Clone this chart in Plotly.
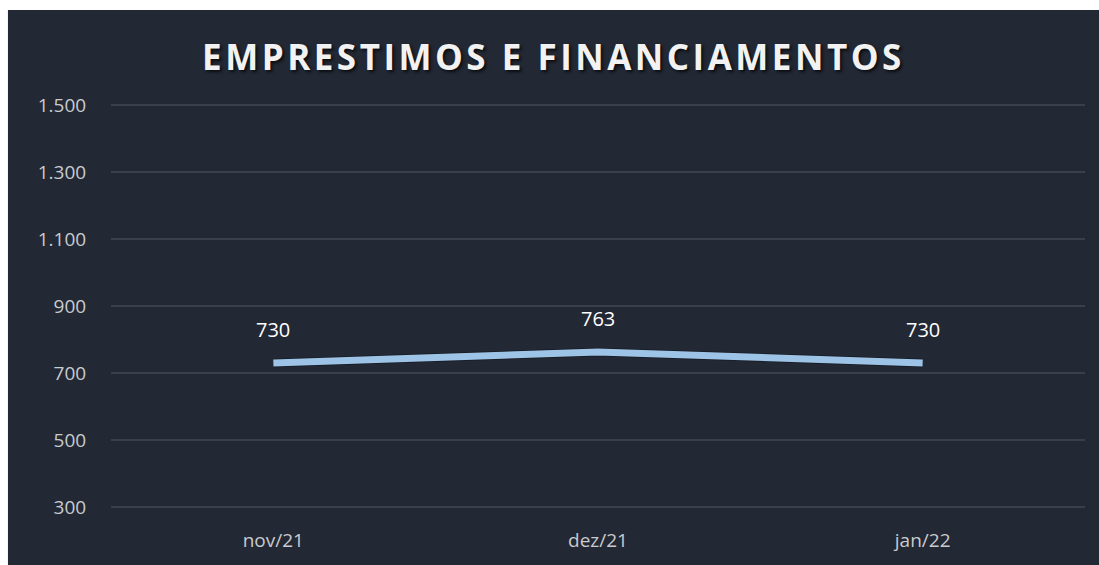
import plotly.graph_objects as go

months = ["nov/21", "dez/21", "jan/22"]
values = [730, 763, 730]
y_ticks = [300, 500, 700, 900, 1100, 1300, 1500]
title_words = ["EMPRESTIMOS", "E", "FINANCIAMENTOS"]

BG = "#222834"
GRID = "#3a404b"
TICK = "#c9cbce"
LINE = "#9dc3e6"
FONT = "Open Sans"

# letter-spaced title built from hair spaces
title_text = "\u200a \u200a".join("\u200a".join(word) for word in title_words)

fig = go.Figure()
fig.add_scatter(
    x=months,
    y=values,
    mode="lines",
    line={"color": "rgba(0,0,0,0.35)", "width": 8.5},
    hoverinfo="skip",
    showlegend=False,
)
fig.add_scatter(
    x=months,
    y=values,
    mode="lines",
    line={"color": LINE, "width": 7},
    showlegend=False,
)
for month, value in zip(months, values):
    fig.add_annotation(
        x=month,
        y=value,
        text=f"{value:,}".replace(",", "."),
        showarrow=False,
        yshift=33,
        font={"family": FONT, "size": 20, "color": "#ffffff"},
    )

# dark card behind the chart, leaving a thin white strip on top and left
fig.add_shape(
    type="rect",
    xref="paper",
    yref="paper",
    x0=-0.1058,
    x1=1.05,
    y0=-0.2,
    y1=1.229,
    fillcolor=BG,
    line={"width": 0},
    layer="below",
)

fig.update_layout(
    width=1099,
    height=565,
    margin={"l": 111, "r": 14, "t": 103, "b": 56},
    paper_bgcolor="#ffffff",
    plot_bgcolor="rgba(0,0,0,0)",
    separators=",.",
    title={
        "text": title_text,
        "x": 0.502,
        "xanchor": "center",
        "y": 0.898,
        "yanchor": "middle",
        "font": {
            "family": FONT,
            "size": 35,
            "color": "#f2f2f2",
            "weight": "bold",
            "shadow": "2px 2px 3px rgba(0,0,0,0.7)",
        },
    },
    xaxis={
        "range": [-0.5, 2.5],
        "automargin": False,
        "showgrid": False,
        "showline": False,
        "ticks": "outside",
        "ticklen": 14,
        "tickcolor": "rgba(0,0,0,0)",
        "tickfont": {"family": FONT, "size": 19, "color": TICK},
    },
    yaxis={
        "range": [294, 1506],
        "automargin": False,
        "tickvals": y_ticks,
        "tickformat": ",d",
        "gridcolor": GRID,
        "gridwidth": 1.5,
        "zeroline": False,
        "showline": False,
        "ticks": "outside",
        "ticklen": 20,
        "tickcolor": "rgba(0,0,0,0)",
        "tickfont": {"family": FONT, "size": 19, "color": TICK},
    },
)

fig.write_html(
    "out.html",
    config={"displayModeBar": False},
    post_script="document.body.style.margin='0';document.body.style.overflow='hidden';",
)
